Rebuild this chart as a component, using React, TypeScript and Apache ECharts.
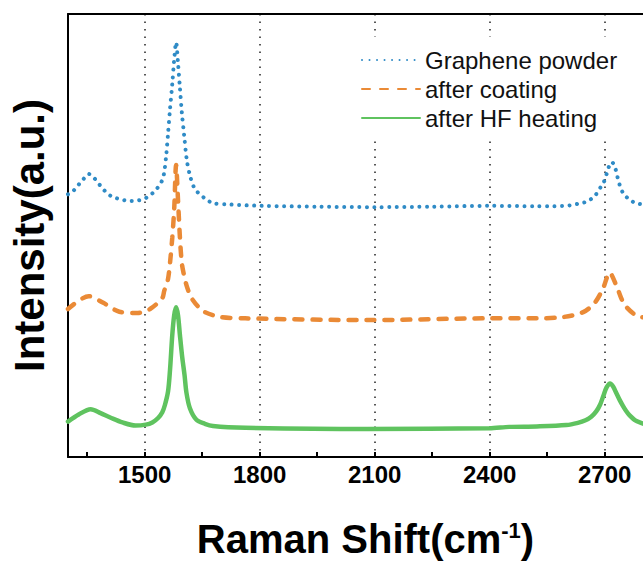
import React, { useEffect, useRef } from "react";
import * as echarts from "echarts";

const FONT = '"Liberation Sans", Arial, Helvetica, sans-serif';

const seriesNames = ["Graphene powder", "after coating", "after HF heating"];
const seriesColors = ["#2f8bc6", "#ea8a36", "#5fc35f"];

const tickValues = [1350, 1500, 1650, 1800, 1950, 2100, 2250, 2400, 2550, 2700];
const labelValues = [1500, 1800, 2100, 2400, 2700];

const blueX = [1300, 1313, 1326, 1339, 1354, 1370, 1383, 1398, 1416, 1437, 1458, 1481, 1502, 1520, 1533, 1546, 1551, 1556, 1561, 1566, 1572, 1577, 1582, 1587, 1592, 1597, 1603, 1610, 1618, 1628, 1639, 1657, 1678, 1722, 1804, 1954, 2102, 2252, 2399, 2523, 2567, 2609, 2632, 2655, 2674, 2684, 2697, 2704, 2710, 2718, 2723, 2729, 2734, 2740, 2748, 2763, 2781, 2802];
const blueY = [59.3, 60.0, 61.3, 62.6, 63.9, 62.8, 61.4, 59.9, 58.7, 58.2, 57.8, 57.9, 58.4, 59.5, 60.7, 62.5, 64.3, 67.9, 73.0, 78.4, 84.2, 89.7, 93.6, 88.9, 83.3, 77.7, 72.6, 67.0, 63.6, 61.0, 59.7, 58.4, 57.3, 57.0, 56.7, 56.5, 56.4, 56.5, 56.7, 56.6, 56.6, 56.8, 57.2, 57.7, 58.9, 60.2, 61.9, 63.6, 65.3, 66.6, 66.2, 64.8, 63.0, 61.2, 59.6, 58.2, 57.3, 57.0];

const orangeX = [1300, 1354, 1392, 1434, 1482, 1514, 1546, 1551, 1556, 1561, 1566, 1572, 1577, 1582, 1587, 1592, 1597, 1603, 1609, 1618, 1625, 1639, 1657, 1698, 1762, 2080, 2399, 2523, 2592, 2644, 2674, 2696, 2713, 2730, 2751, 2781, 2802];
const orangeY = [33.4, 36.3, 34.8, 32.8, 32.5, 33.4, 35.9, 37.5, 38.8, 40.2, 43.7, 49.5, 55.9, 65.9, 58.0, 49.5, 43.7, 40.9, 38.8, 36.6, 35.5, 34.0, 32.7, 31.6, 31.3, 30.9, 31.3, 31.3, 31.6, 32.7, 34.8, 38.1, 41.6, 38.8, 34.5, 32.0, 31.5];

const greenX = [1300, 1328, 1359, 1385, 1413, 1442, 1476, 1503, 1520, 1535, 1546, 1553, 1561, 1566, 1572, 1577, 1582, 1587, 1592, 1598, 1604, 1609, 1618, 1635, 1657, 1678, 1763, 2081, 2399, 2451, 2523, 2600, 2630, 2650, 2665, 2678, 2688, 2697, 2705, 2714, 2722, 2730, 2739, 2748, 2756, 2764, 2781, 2802];
const greenY = [8.0, 9.6, 10.8, 9.9, 8.8, 7.8, 7.1, 7.3, 7.8, 8.8, 10.1, 11.8, 14.8, 19.5, 27.5, 32.0, 33.8, 32.0, 27.5, 22.5, 18.5, 14.5, 11.0, 8.4, 7.5, 7.0, 6.6, 6.3, 6.5, 6.8, 6.9, 7.2, 7.7, 8.3, 9.1, 10.3, 11.8, 13.9, 15.7, 16.6, 15.9, 14.5, 12.9, 11.5, 10.4, 9.5, 8.2, 7.5];

const zip = (xs: number[], ys: number[]) => xs.map((x, i) => [x, ys[i]]);

export default function App() {
  const ref = useRef<HTMLDivElement>(null);
  useEffect(() => {
    const chart = echarts.init(ref.current as HTMLDivElement, null, { renderer: "svg" });
    const lineTypes: any[] = [
      { width: 4, type: [0.01, 7.5], cap: "round" },
      { width: 4.5, type: [8, 10], cap: "round" },
      { width: 4.5, type: "solid", cap: "round" },
    ];
    const datasets = [zip(blueX, blueY), zip(orangeX, orangeY), zip(greenX, greenY)];
    chart.setOption({
      animation: false,
      backgroundColor: "#fff",
      textStyle: { fontFamily: FONT },
      grid: {
        left: 67,
        top: 14,
        width: 582,
        height: 467,
        show: false,
      },
      xAxis: [
        {
          type: "value",
          min: 1300,
          max: 2800,
          position: "bottom",
          name: "{a|Raman Shift(cm}{b|-1}{a|)}",
          nameLocation: "middle",
          nameGap: 62,
          nameTextStyle: {
            padding: [0, 0, 0, 20],
            rich: {
              a: { fontSize: 40, fontWeight: "bold", color: "#000", fontFamily: FONT },
              b: { fontSize: 22, fontWeight: "bold", color: "#000", fontFamily: FONT, verticalAlign: "top" },
            },
          },
          axisLine: { show: true, onZero: false, lineStyle: { color: "#000", width: 2 } },
          axisTick: { show: true, inside: true, length: 5, customValues: tickValues, lineStyle: { color: "#000", width: 2 } },
          axisLabel: {
            customValues: labelValues,
            formatter: (v: number) => String(v),
            color: "#000",
            fontSize: 24,
            fontWeight: "bold",
            margin: 5,
            fontFamily: FONT,
          },
          splitLine: { show: false },
        },
        {
          type: "value",
          min: 1300,
          max: 2800,
          position: "top",
          axisLine: { show: true, onZero: false, lineStyle: { color: "#000", width: 2 } },
          axisTick: { show: false, customValues: labelValues },
          axisLabel: { show: false },
          splitLine: { show: true, lineStyle: { color: "#222", width: 1.5, type: [1.5, 6] } },
        },
      ],
      yAxis: {
        type: "value",
        min: 0,
        max: 100,
        name: "Intensity(a.u.)",
        nameLocation: "middle",
        nameGap: 18,
        nameTextStyle: { fontSize: 42, fontWeight: "bold", color: "#000", fontFamily: FONT },
        axisLine: { show: true, onZero: false, lineStyle: { color: "#000", width: 2 } },
        axisTick: { show: false },
        axisLabel: { show: false },
        splitLine: { show: false },
      },
      legend: {
        orient: "vertical",
        left: 355,
        top: 37,
        padding: [11, 6, 11, 6],
        backgroundColor: "#fff",
        itemWidth: 58,
        itemHeight: 14,
        itemGap: 5,
        itemStyle: { opacity: 0 },
        textStyle: { fontSize: 24, color: "#111", fontFamily: FONT },
        data: seriesNames,
      },
      series: seriesNames.map((name, i) => ({
        name,
        type: "line",
        xAxisIndex: 0,
        data: datasets[i],
        showSymbol: false,
        symbol: "none",
        smooth: 0.3,
        color: seriesColors[i],
        itemStyle: { color: seriesColors[i] },
        lineStyle: { color: seriesColors[i], ...lineTypes[i] },
        z: 3,
      })),
    });
    return () => chart.dispose();
  }, []);
  return (
    <div
      ref={ref}
      style={{ position: "fixed", left: 0, top: 0, width: 643, height: 564, background: "#fff" }}
    />
  );
}
